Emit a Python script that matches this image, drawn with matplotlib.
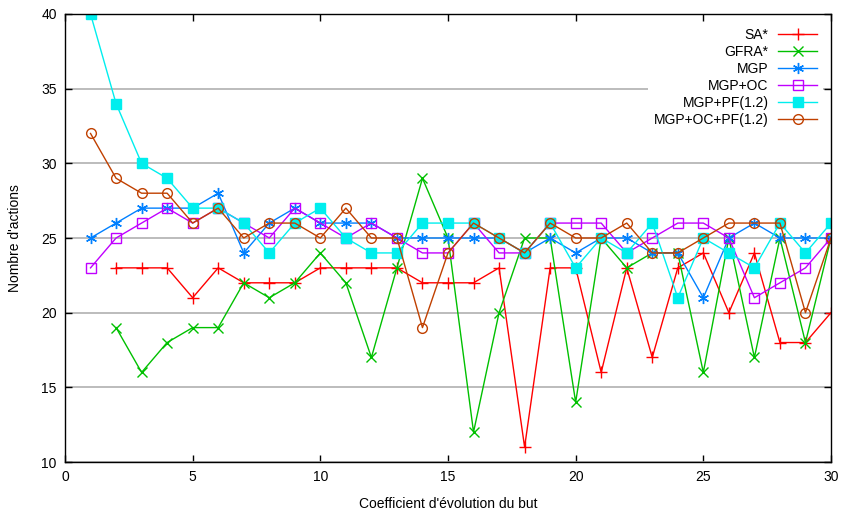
import matplotlib
matplotlib.use("Agg")
import matplotlib.pyplot as plt

plt.rcParams['font.family'] = ['Liberation Sans', 'DejaVu Sans']
plt.rcParams['font.size'] = 10

# coefficient d'evolution du but
x_all = list(range(1, 31))
x_from2 = list(range(2, 31))

sa = [23, 23, 23, 21, 23, 22, 22, 22, 23, 23, 23, 23, 22, 22, 22, 23, 11, 23, 23,
      16, 23, 17, 23, 24, 20, 24, 18, 18, 20]
gfra = [19, 16, 18, 19, 19, 22, 21, 22, 24, 22, 17, 23, 29, 25, 12, 20, 25, 25, 14,
        25, 23, 24, 24, 16, 25, 17, 25, 18, 25]
mgp = [25, 26, 27, 27, 27, 28, 24, 26, 27, 26, 26, 26, 25, 25, 25, 25, 25, 24, 25,
       24, 25, 25, 24, 24, 21, 25, 26, 25, 25, 25]
mgp_oc = [23, 25, 26, 27, 26, 27, 26, 25, 27, 26, 25, 26, 25, 24, 24, 26, 24, 24, 26,
          26, 26, 24, 25, 26, 26, 25, 21, 22, 23, 25]
mgp_pf = [40, 34, 30, 29, 27, 27, 26, 24, 26, 27, 25, 24, 24, 26, 26, 26, 25, 24, 26,
          23, 25, 24, 26, 21, 25, 24, 23, 26, 24, 26]
mgp_oc_pf = [32, 29, 28, 28, 26, 27, 25, 26, 26, 25, 27, 25, 25, 19, 24, 26, 25, 24, 26,
             25, 25, 26, 24, 24, 25, 26, 26, 26, 20, 25]

series = [
    ("SA*", x_from2, sa, "#ff0000", dict(marker="+", ms=8, mew=1)),
    ("GFRA*", x_from2, gfra, "#00c000", dict(marker="x", ms=6.5, mew=1)),
    ("MGP", x_all, mgp, "#0080ff", dict(marker=(6, 2, 0), ms=8, mew=1)),
    ("MGP+OC", x_all, mgp_oc, "#c000ff", dict(marker="s", ms=6.5, mfc="none", mew=1)),
    ("MGP+PF(1.2)", x_all, mgp_pf, "#00eeee", dict(marker="s", ms=6.5, mew=1)),
    ("MGP+OC+PF(1.2)", x_all, mgp_oc_pf, "#c04000", dict(marker="o", ms=7, mfc="none", mew=1)),
]

fig = plt.figure(figsize=(8.49, 5.18), dpi=100)
ax = fig.add_axes([65 / 849, 1 - 462 / 518, (831 - 65) / 849, (462 - 14) / 518])

for label, xs, ys, col, mk in series:
    ax.plot(xs, ys, color=col, lw=1, label=label, **mk)

ax.set_xlim(0, 30)
ax.set_ylim(10, 40)
ax.set_xticks(range(0, 31, 5))
ax.set_yticks(range(10, 41, 5))
ax.yaxis.grid(True, color="#b0b0b0", lw=1.2)
ax.set_axisbelow(True)
ax.tick_params(direction="in", top=True, right=True, length=5, width=1, pad=6)
for s in ax.spines.values():
    s.set_linewidth(1)

ax.set_xlabel("Coefficient d'évolution du but", labelpad=9)
ax.set_ylabel("Nombre d'actions", labelpad=14)

leg = ax.legend(loc="upper right", markerfirst=False, frameon=True, fancybox=False,
                framealpha=1, edgecolor="none", facecolor="white", fontsize=10,
                handlelength=2.8, labelspacing=0.22, borderaxespad=0.6, handletextpad=0.7,
                borderpad=0.4)
for t in leg.get_texts():
    t.set_ha("right")
leg._legend_box.align = "right"

fig.savefig("out.png", dpi=100)
